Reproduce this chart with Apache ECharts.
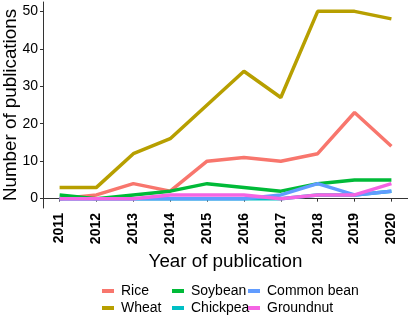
<!DOCTYPE html>
<html>
<head>
<meta charset="UTF-8">
<style>
  html, body { margin: 0; padding: 0; background: #fff; }
  #chart { width: 408px; height: 316px; }
</style>
<script src="https://cdn.jsdelivr.net/npm/echarts@6/dist/echarts.min.js"></script>
</head>
<body>
<div id="chart"></div>
<script>
// datos
const years = [2011, 2012, 2013, 2014, 2015, 2016, 2017, 2018, 2019, 2020];
const rice       = [0, 1, 4, 2, 10, 11, 10, 12, 23, 14];
const wheat      = [3, 3, 12, 16, 25, 34, 27, 50, 50, 48];
const soybean    = [1, 0, 1, 2, 4, 3, 2, 4, 5, 5];
const chickpea   = [0, 0, 0, 0, 0, 0, 0, 1, 1, 2];
const commonBean = [0, 0, 0, 0, 0, 0, 1, 4, 1, 2];
const groundnut  = [0, 0, 0, 1, 1, 1, 0, 1, 1, 4];
const yTicks = [0, 10, 20, 30, 40, 50];

const names  = ['Rice', 'Wheat', 'Soybean', 'Chickpea', 'Common bean', 'Groundnut'];
const values = [rice, wheat, soybean, chickpea, commonBean, groundnut];
const colors = ['#F8766D', '#B79F00', '#00BA38', '#00BFC4', '#619CFF', '#F564E3'];

const font = 'Liberation Sans';

// una leyenda por columna (orden por columnas como en ggplot)
function legendCol(left, items) {
  return {
    orient: 'vertical',
    left: left,
    top: 284,
    height: 40,
    padding: 0,
    itemWidth: 12,
    itemHeight: 4,
    itemGap: 3,
    icon: 'rect',
    data: items,
    textStyle: { fontFamily: font, fontSize: 14, color: '#000', padding: [0, 0, 0, 2] }
  };
}

const chart = echarts.init(document.getElementById('chart'));
chart.setOption({
  animation: false,
  color: colors,
  grid: { left: 43, right: 0, top: 2, bottom: 108, outerBoundsMode: 'none', containLabel: false },
  legend: [
    legendCol(102, ['Rice', 'Wheat']),
    legendCol(172, ['Soybean', 'Chickpea']),
    legendCol(248, ['Common bean', 'Groundnut'])
  ],
  xAxis: {
    type: 'value',
    min: 2010.55,
    max: 2020.45,
    name: 'Year of publication',
    nameLocation: 'middle',
    nameGap: 41,
    nameTextStyle: { fontFamily: font, fontSize: 18.8, color: '#000' },
    splitLine: { show: false },
    axisLine: { lineStyle: { color: '#333', width: 1 } },
    axisTick: { show: true, length: 3, customValues: years, lineStyle: { color: '#333' } },
    axisLabel: {
      customValues: years,
      rotate: 90,
      margin: 5,
      fontFamily: font,
      fontSize: 14,
      fontWeight: 'bold',
      color: '#000',
      formatter: v => String(v)
    }
  },
  yAxis: {
    type: 'value',
    min: -2.5,
    max: 52.5,
    name: 'Number of publications',
    nameLocation: 'middle',
    nameGap: 23,
    nameMoveOverlap: false,
    nameTextStyle: { fontFamily: font, fontSize: 18.8, color: '#000' },
    splitLine: { show: false },
    axisLine: { show: true, lineStyle: { color: '#333', width: 1 } },
    axisTick: { show: true, length: 3, customValues: yTicks, lineStyle: { color: '#333' } },
    axisLabel: {
      customValues: yTicks,
      margin: 5,
      fontFamily: font,
      fontSize: 14,
      color: '#000'
    }
  },
  series: names.map((n, i) => ({
    name: n,
    type: 'line',
    data: years.map((y, j) => [y, values[i][j]]),
    symbol: 'none',
    lineStyle: { width: 3.5, color: colors[i] },
    itemStyle: { color: colors[i] }
  }))
});
</script>
</body>
</html>
